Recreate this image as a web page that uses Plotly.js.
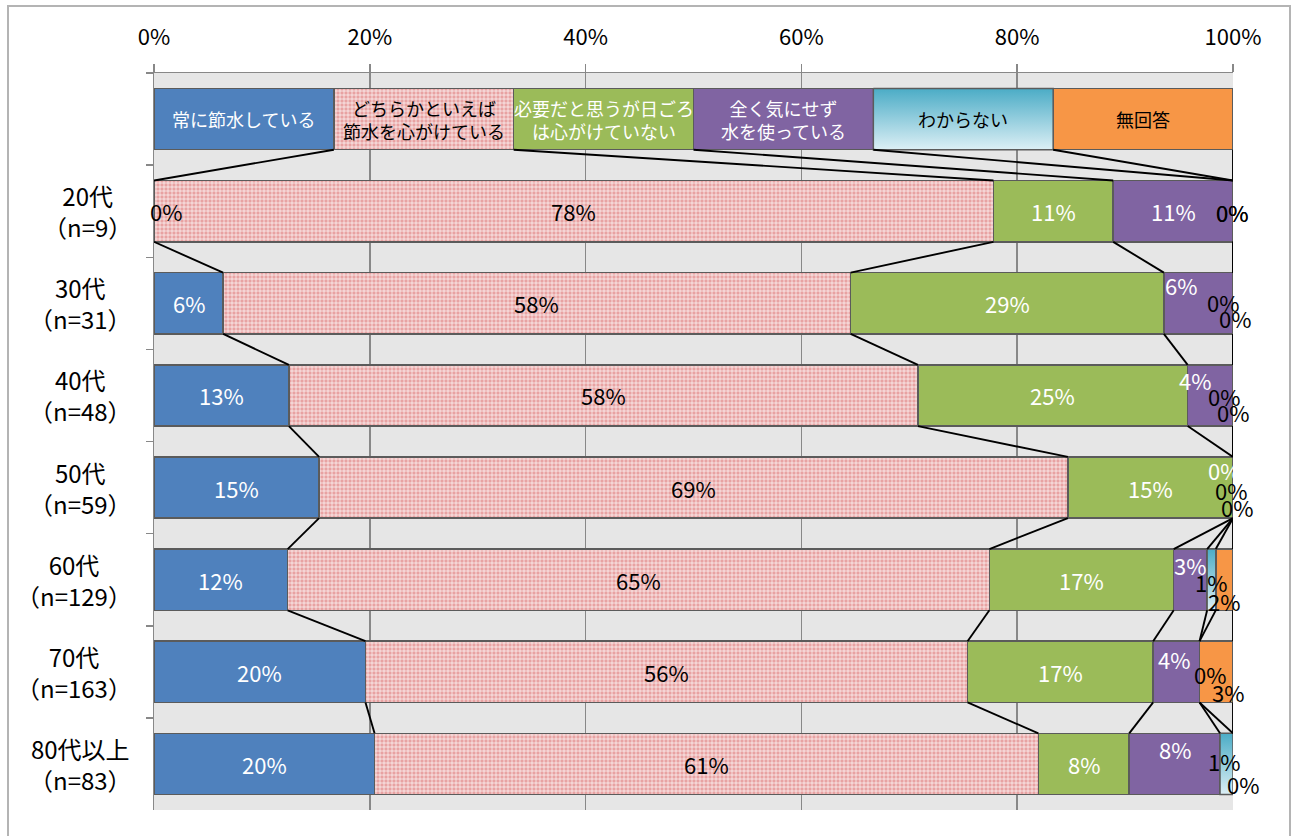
<!DOCTYPE html>
<html>
<head>
<meta charset="utf-8">
<script src="https://cdn.plot.ly/plotly-3.0.1.min.js"></script>
<style>
html,body{margin:0;padding:0;background:#fff;}
#wrap{position:relative;width:1292px;height:836px;overflow:hidden;}
#chart{position:absolute;left:0;top:0;width:1292px;height:836px;}
#frame{position:absolute;left:7px;top:5px;width:1280px;height:850px;border:2px solid #b4b4b4;pointer-events:none;}
</style>
</head>
<body>
<div id="wrap"><div id="chart"></div><div id="frame"></div></div>
<script>
// ---------- data ----------
const ageGroups   = ['20代', '30代', '40代', '50代', '60代', '70代', '80代以上'];
const sampleSizes = [9, 31, 48, 59, 129, 163, 83];
const seriesNames = ['常に節水している', 'どちらかといえば<br>節水を心がけている', '必要だと思うが日ごろ<br>は心がけていない', '全く気にせず<br>水を使っている', 'わからない', '無回答'];
const legendRowWidths = [16.67, 16.67, 16.67, 16.67, 16.67, 16.67];
// percentages per age group (20代 … 80代以上)
const alwaysSave = [0, 6.4, 12.5, 15.3, 12.4, 19.6, 20.4];
const ratherSave = [77.8, 58.1, 58.3, 69.4, 65.1, 55.8, 61.4];
const needButNot = [11.1, 29.0, 25.0, 15.3, 17.1, 17.2, 8.4];
const dontCare   = [11.1, 6.4, 4.2, 0, 3.1, 4.3, 8.4];
const dontKnow   = [0, 0, 0, 0, 0.8, 0, 1.2];
const noAnswer   = [0, 0, 0, 0, 1.6, 3.1, 0];

// ---------- styles ----------
const FONT = 'Noto Sans CJK JP, Noto Sans, sans-serif';
const seriesColors = ['#4F81BD', '#E8A2A2', '#9BBB59', '#8064A2', '#93CDDD', '#F79646'];
const labelColors  = ['#FFFFFF', '#000000', '#FFFFFF', '#FFFFFF', '#000000', '#000000'];
const outline = '#5B5B5B';
const bargap = 0.335;
const half = (1 - bargap) / 2;
// pixel nudges for crowded labels [row][series] = [dx, dyDown, color?]
const nudges = {
  0: {0: [12, 0, '#000000'], 4: [-1, 1], 5: [-1, 1]},
  1: {3: [-17, -18], 4: [-10, -1], 5: [2, 15]},
  2: {3: [-15, -15], 4: [-9, 1], 5: [0, 17]},
  3: {3: [-9, -18], 4: [-2, 2], 5: [4, 19]},
  4: {3: [0, -15], 4: [0, 2], 5: [0, 21]},
  5: {3: [-2, -13], 4: [10, 2], 5: [12, 20]},
  6: {3: [0, -15], 4: [-3, -3], 5: [10, 20]}
};

// ---------- build ----------
const series = [alwaysSave, ratherSave, needButNot, dontCare, dontKnow, noAnswer];
const rowKeys = ['凡例'].concat(ageGroups);
const rowSums = ageGroups.map((_, r) => series.reduce((a, s) => a + s[r], 0));
const legSum = legendRowWidths.reduce((a, b) => a + b, 0);
const widths = series.map((s, k) => [legendRowWidths[k] * 100 / legSum].concat(s.map((v, r) => v * 100 / rowSums[r])));
const starts = [], ends = [];
for (let k = 0; k < 6; k++) { starts.push([]); ends.push([]); }
for (let r = 0; r < rowKeys.length; r++) {
  let acc = 0;
  for (let k = 0; k < 6; k++) { starts[k][r] = acc; acc += widths[k][r]; ends[k][r] = acc; }
}

const traces = series.map((s, k) => {
  const t = {
    type: 'bar', orientation: 'h', name: seriesNames[k].replace('<br>', ''),
    y: rowKeys, x: widths[k],
    marker: {color: seriesColors[k], line: {color: outline, width: 1.5}},
    hoverinfo: 'name+x', showlegend: false
  };
  if (k === 1) {
    t.marker.pattern = {shape: '+', fgcolor: '#FFFFFF', bgcolor: '#E8A2A2', size: 4, solidity: 0.3, fillmode: 'replace'};
  }
  return t;
});

// gradient overlay for わからない
for (let r = 0; r < rowKeys.length; r++) {
  const x0 = starts[4][r], x1 = ends[4][r];
  if (x1 - x0 <= 0) continue;
  const y0 = r - half, y1 = r + half;
  traces.push({
    type: 'scatter', mode: 'lines', xaxis: 'x', yaxis: 'y2',
    x: [x0, x1, x1, x0, x0], y: [y0, y0, y1, y1, y0],
    fill: 'toself',
    fillgradient: {type: 'vertical', start: y0, stop: y1, colorscale: [[0, '#4BACC6'], [1, '#DCEFF5']]},
    line: {color: outline, width: 1.5}, hoverinfo: 'skip', showlegend: false
  });
}

const shapes = [];
for (let r = 0; r < rowKeys.length - 1; r++) {
  for (let k = 0; k < 6; k++) {
    shapes.push({type: 'line', xref: 'x', yref: 'y',
      x0: ends[k][r], y0: r + half, x1: ends[k][r + 1], y1: r + 1 - half,
      line: {color: '#000000', width: 1.9}});
  }
}

const annotations = [];
for (let k = 0; k < 6; k++) {
  annotations.push({xref: 'x', yref: 'y', x: (starts[k][0] + ends[k][0]) / 2, y: rowKeys[0],
    text: seriesNames[k], showarrow: false, align: 'center',
    font: {family: FONT, size: 18, color: labelColors[k]}});
}
for (let r = 1; r < rowKeys.length; r++) {
  for (let k = 0; k < 6; k++) {
    const v = series[k][r - 1];
    const n = (nudges[r - 1] || {})[k] || [0, 0];
    annotations.push({xref: 'x', yref: 'y', x: (starts[k][r] + ends[k][r]) / 2, y: rowKeys[r],
      text: Math.round(v) + '%', showarrow: false, xshift: n[0], yshift: -n[1],
      font: {family: FONT, size: 22, color: n[2] || labelColors[k]}});
  }
}
const L = 154, R = 59, T = 73, B = 26, PW = 1292 - L - R;
for (let r = 1; r < rowKeys.length; r++) {
  annotations.push({xref: 'paper', yref: 'y', x: (134 - L) / PW, y: rowKeys[r], xanchor: 'right',
    text: ageGroups[r - 1] + '<br>（n=' + sampleSizes[r - 1] + '）', showarrow: false, align: 'center',
    font: {family: FONT, size: 24, color: '#000000'}});
}

const layout = {
  width: 1292, height: 836,
  margin: {l: L, r: R, t: T, b: B, pad: 0},
  paper_bgcolor: '#FFFFFF', plot_bgcolor: '#E6E6E6',
  barmode: 'stack', bargap: bargap,
  font: {family: FONT, size: 22, color: '#000000'},
  xaxis: {side: 'top', range: [0, 100], tickmode: 'array', tickvals: [0, 20, 40, 60, 80, 100],
    ticktext: ['0%', '20%', '40%', '60%', '80%', '100%'],
    ticks: 'outside', ticklen: 8, tickwidth: 1.5, tickcolor: '#888888', ticklabelstandoff: 10,
    showgrid: true, gridcolor: '#888888', gridwidth: 1.5, zeroline: false,
    showline: true, linecolor: '#888888', linewidth: 1.5, fixedrange: true,
    tickfont: {family: FONT, size: 22, color: '#000000'}},
  yaxis: {type: 'category', categoryarray: rowKeys, categoryorder: 'array', range: [rowKeys.length - 0.5, -0.5],
    tickson: 'boundaries', ticks: 'outside', ticklen: 7, tickwidth: 1.5, tickcolor: '#888888',
    showticklabels: false, showgrid: false, zeroline: false,
    showline: true, linecolor: '#888888', linewidth: 1.5, fixedrange: true},
  yaxis2: {overlaying: 'y', range: [rowKeys.length - 0.5, -0.5], visible: false, fixedrange: true},
  shapes: shapes, annotations: annotations, showlegend: false
};

Plotly.newPlot('chart', traces, layout, {displayModeBar: false, staticPlot: true});
</script>
</body>
</html>
